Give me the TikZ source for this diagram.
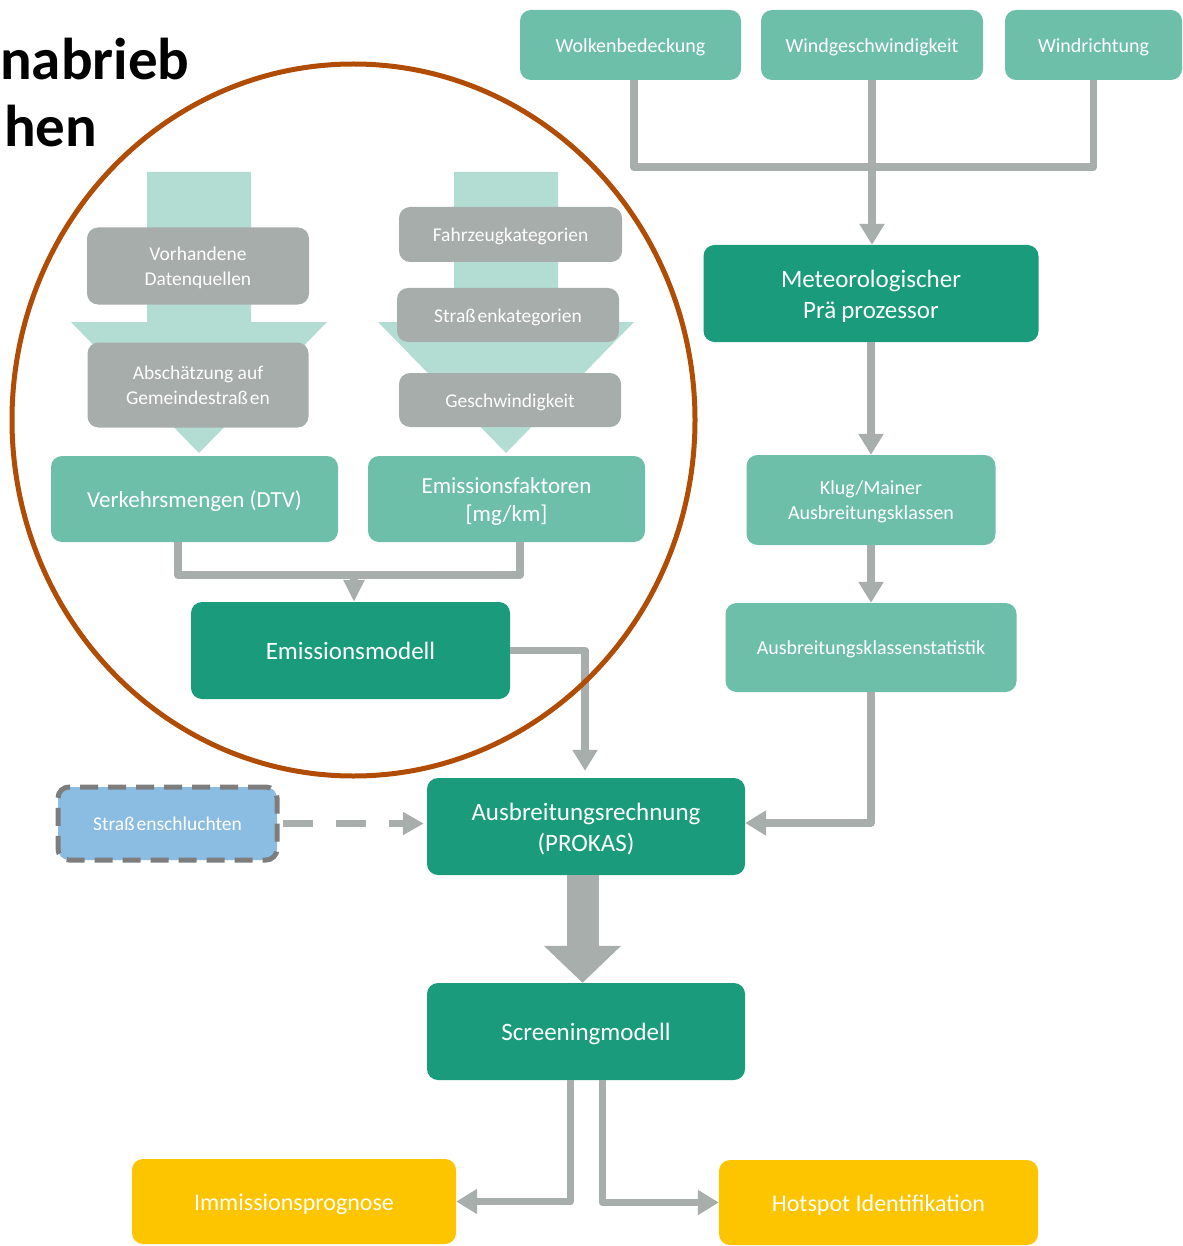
\documentclass[tikz,border=0pt]{standalone}
\usepackage{fontspec}
\setmainfont{Carlito}
\usetikzlibrary{arrows.meta}

\definecolor{tealdark}{RGB}{26,156,124}
\definecolor{tealmid}{RGB}{109,191,169}
\definecolor{teallight}{RGB}{179,221,210}
\definecolor{boxgrey}{RGB}{166,173,171}
\definecolor{linegrey}{RGB}{168,174,172}
\definecolor{ambery}{RGB}{253,196,0}
\definecolor{skyblue}{RGB}{139,189,227}
\definecolor{dashgrey}{RGB}{125,125,125}
\definecolor{rust}{RGB}{176,76,4}

% label boxes with a fixed cap line so that descenders do not move the text
\newcommand\oneline[1]{\raisebox{0pt}[0.744em][0pt]{#1}}
\newcommand\twolines[2]{\raisebox{0pt}[0.744em][\baselineskip]{%
  \begin{tabular}[t]{@{}c@{}}#1\\\relax #2\end{tabular}}}

\tikzset{
  box/.style={rounded corners=11pt, inner sep=0pt, align=center, text=white},
  darkbox/.style={box, fill=tealdark, font=\fontsize{25}{31}\selectfont},
  midbox/.style={box, fill=tealmid, font=\fontsize{20}{25}\selectfont},
  midboxlarge/.style={box, fill=tealmid, font=\fontsize{23}{28}\selectfont},
  greybox/.style={box, fill=boxgrey, font=\fontsize{19.5}{25}\selectfont},
  yellowbox/.style={box, fill=ambery, font=\fontsize{24}{30}\selectfont},
  optbox/.style={box, fill=skyblue, draw=dashgrey, line width=5pt,
    dash pattern=on 18pt off 10pt, font=\fontsize{19.5}{25}\selectfont},
  conn/.style={draw=linegrey, line width=7.5pt, line join=round},
  tip/.style={-{Triangle[length=21pt,width=24pt]}},
  smalltip/.style={-{Triangle[length=22pt,width=20pt]}},
  titletext/.style={anchor=base west, inner sep=0pt,
    font=\fontsize{59}{62}\selectfont\bfseries}
}

\begin{document}
\begin{tikzpicture}[x=1pt, y=-1pt]
\fill[white] (0,0) rectangle (1182,1246);
\useasboundingbox (0,0) rectangle (1182,1246);

% broad input arrows behind the grey boxes
\fill[teallight] (147,172) -- (251,172) -- (251,322) -- (327,322)
  -- (199,453) -- (71,322) -- (147,322) -- cycle;
\fill[teallight] (454,172) -- (558,172) -- (558,322) -- (634,322)
  -- (506,453) -- (378,322) -- (454,322) -- cycle;

% meteorological inputs
\node[midbox, minimum width=221pt, minimum height=70pt] (wolk) at (630.5,45) {\oneline{Wolkenbedeckung}};
\node[midbox, minimum width=222pt, minimum height=70pt] (windg) at (872,45) {\oneline{Windgeschwindigkeit}};
\node[midbox, minimum width=177pt, minimum height=70pt] (windr) at (1093.5,45) {\oneline{Windrichtung}};

\node[darkbox, minimum width=335pt, minimum height=97pt] (meteo) at (871,293.5) {\twolines{Meteorologischer}{Prä\kern5pt prozessor}};
\node[midbox, minimum width=249pt, minimum height=90pt] (klug) at (871,500) {\twolines{Klug/Mainer}{Ausbreitungsklassen}};
\node[midbox, minimum width=291pt, minimum height=89pt] (stat) at (871,647.5) {\oneline{Ausbreitungsklassenstatistik}};

% emission branch
\node[greybox, minimum width=222pt, minimum height=77pt] (vorh) at (198,266) {\twolines{Vorhandene}{Datenquellen}};
\node[greybox, minimum width=221pt, minimum height=85pt] (absch) at (198,385) {\twolines{Abschätzung auf}{Gemeindestraß\kern2pt en}};
\node[greybox, minimum width=223pt, minimum height=55pt] (fahr) at (510.5,234.5) {\oneline{Fahrzeugkategorien}};
\node[greybox, minimum width=222pt, minimum height=54pt] (strk) at (508,315) {\oneline{Straß\kern2pt enkategorien}};
\node[greybox, minimum width=222pt, minimum height=54pt] (gesch) at (510,400) {\oneline{Geschwindigkeit}};

\node[midboxlarge, minimum width=287pt, minimum height=86pt] (verk) at (194.5,499) {\oneline{Verkehrsmengen (DTV)}};
\node[midboxlarge, minimum width=277pt, minimum height=86pt] (emisf) at (506.5,499) {\twolines{Emissionsfaktoren}{{[mg/km]}}};
\node[darkbox, minimum width=319pt, minimum height=97pt] (emod) at (350.5,650.5) {\oneline{Emissionsmodell}};

% dispersion and screening
\node[optbox, minimum width=219pt, minimum height=73pt] (strs) at (167.5,823.5) {\oneline{Straß\kern2pt enschluchten}};
\node[darkbox, minimum width=318pt, minimum height=97pt] (ausb) at (586,826.5) {\twolines{Ausbreitungsrechnung}{(PROKAS)}};
\node[darkbox, minimum width=318pt, minimum height=97pt] (scr) at (586,1031.5) {\oneline{Screeningmodell}};
\node[yellowbox, minimum width=324pt, minimum height=85pt] (imm) at (294,1201.5) {\oneline{Immissionsprognose}};
\node[yellowbox, minimum width=319pt, minimum height=85pt] (hot) at (878.5,1202.5) {\oneline{Hotspot Identifikation}};

% connectors
\coordinate (hub) at (872,167);
\draw[conn] ([xshift=3.5pt]wolk.south) |- (hub) -| (windr.south);
\draw[conn, tip] (windg.south) -- (windg.south |- meteo.north);
\draw[conn, tip] (meteo.south) -- (klug.north);
\draw[conn, tip] (klug.south) -- (stat.north);
\draw[conn, tip] (stat.south) |- ([yshift=3.5pt]ausb.east);

\coordinate (junc) at (354,575);
\draw[conn] ([xshift=-16.5pt]verk.south) |- (junc) -| ([xshift=13.5pt]emisf.south);
\draw[conn, smalltip] (junc) -- (junc |- emod.north);
\draw[conn, tip, shorten >=7pt] (emod.east) -| ([xshift=-1pt]ausb.north);

\draw[conn, line join=miter, dash pattern=on 30pt off 23pt,
  -{Triangle[length=21pt,width=22pt]}, shorten >=3pt]
  ([xshift=3pt]strs.east) -- (strs.east -| ausb.west);

\draw[draw=linegrey, line width=32pt, -{Triangle[length=37pt,width=75pt]}]
  ([xshift=-3.5pt]ausb.south) -- ([xshift=-3.5pt]scr.north);

\draw[conn, tip] ([xshift=-15.5pt]scr.south) |- (imm.east);
\draw[conn, tip] ([xshift=16.5pt]scr.south) |- (hot.west);

% highlight ring round the emission part
\draw[rust, line width=5pt] (353.5,420) ellipse [x radius=341.5pt, y radius=356pt];

% heading fragments at the upper left
\node[titletext] (head1) at (0,80) {nabrieb};
\node[titletext] (head2) at (4,147) {hen};
\end{tikzpicture}
\end{document}
